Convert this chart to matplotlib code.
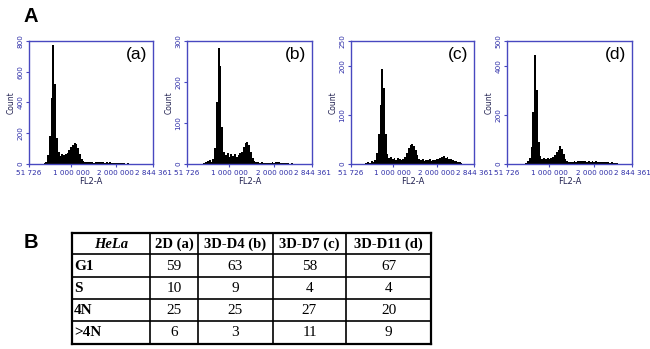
import numpy as np
import matplotlib
matplotlib.use('Agg')
import matplotlib.pyplot as plt

# histogram counts, bins of 40 000 FL2-A units starting at 300 000
bin_start = 300000
bin_width = 40000
counts_a = [2, 3, 5, 15, 60, 180, 430, 776, 520, 170, 75, 55, 62, 57, 66, 74, 92, 108,
            124, 137, 128, 102, 62, 30, 18, 15, 12, 14, 10, 12, 9, 11, 13, 10, 12, 14,
            9, 11, 8, 10, 7, 9, 6, 8, 5, 7, 4, 5, 3, 4, 2, 2, 1, 1, 0, 0, 0, 0]
counts_b = [0, 0, 0, 2, 4, 8, 10, 6, 12, 40, 150, 283, 240, 90, 30, 22, 26, 18, 24, 20,
            25, 18, 22, 26, 30, 42, 50, 54, 46, 30, 14, 8, 5, 4, 3, 4, 3, 2, 3, 2,
            3, 4, 3, 5, 6, 4, 3, 2, 3, 2, 2, 1, 2, 1, 1, 1, 1, 0]
counts_c = [0, 0, 2, 4, 3, 6, 5, 8, 22, 60, 120, 193, 155, 60, 20, 12, 14, 10, 13, 9,
            12, 10, 8, 11, 14, 22, 33, 38, 41, 36, 28, 18, 10, 8, 10, 7, 9, 8, 10, 7,
            9, 8, 11, 10, 12, 14, 16, 13, 15, 11, 10, 8, 7, 6, 5, 4, 3, 0]
counts_d = [0, 0, 0, 2, 6, 12, 25, 70, 210, 445, 300, 90, 32, 22, 24, 20, 23, 21, 25, 28,
            38, 50, 58, 72, 62, 40, 20, 12, 10, 8, 9, 11, 10, 12, 14, 11, 13, 12, 10, 12,
            9, 11, 10, 12, 9, 10, 8, 10, 7, 9, 8, 6, 7, 5, 4, 3, 2, 0]
panel_counts = [counts_a, counts_b, counts_c, counts_d]
panel_letters = ['(a)', '(b)', '(c)', '(d)']
panel_ymax = [800, 300, 250, 500]
panel_yticks = [[0, 200, 400, 600, 800], [0, 100, 200, 300], [0, 100, 200, 250], [0, 200, 400, 500]]

x_min, x_max = 51726, 2844361
x_ticks = [51726, 1000000, 2000000, 2844361]
x_ticklabels = ['51 726', '1 000 000', '2 000 000', '2 844 361']

# table
col_headers = ['HeLa', '2D (a)', '3D-D4 (b)', '3D-D7 (c)', '3D-D11 (d)']
row_labels = ['G1', 'S', '4N', '>4N']
table_values = [[59, 63, 58, 67],
                [10, 9, 4, 4],
                [25, 25, 27, 20],
                [6, 3, 11, 9]]

W, H = 650, 349
fig = plt.figure(figsize=(W / 100, H / 100), dpi=100)

blue = '#4848c0'
tick_blue = '#2e2ea8'

axes_px = [(29, 153), (187, 312), (351, 474), (507, 632)]
top_px, bot_px = 41, 164

for (x0, x1), counts, letter, ymax, yt in zip(axes_px, panel_counts, panel_letters,
                                              panel_ymax, panel_yticks):
    ax = fig.add_axes([x0 / W, 1 - bot_px / H, (x1 - x0) / W, (bot_px - top_px) / H])
    edges = bin_start + bin_width * np.arange(len(counts) + 1)
    ax.stairs(counts, edges, fill=True, color='black', linewidth=0)
    ax.set_xlim(x_min, x_max)
    ax.set_ylim(0, ymax)
    for s in ax.spines.values():
        s.set_color(blue)
        s.set_linewidth(1.0)
    ax.set_xticks(x_ticks)
    ax.set_xticklabels(x_ticklabels)
    ax.set_yticks(yt)
    ax.tick_params(axis='both', colors=blue, labelcolor=tick_blue, labelsize=5.2,
                   length=2.5, width=0.8, pad=1.5)
    for lab in ax.get_yticklabels():
        lab.set_rotation(90)
        lab.set_va('center')
    ax.set_xlabel('FL2-A', fontsize=6, color='#202050', labelpad=1)
    ax.set_ylabel('Count', fontsize=5.5, color='#202050', labelpad=1)
    ax.text(0.95, 0.95, letter, transform=ax.transAxes, ha='right', va='top',
            fontsize=12.5, family='Liberation Sans')

fig.text(23 / W, 1 - 22 / H, 'A', fontsize=14.5, fontweight='bold', family='Liberation Sans')
fig.text(24 / W, 1 - 248 / H, 'B', fontsize=14.5, fontweight='bold', family='Liberation Sans')

# table drawn in pixel coordinates
col_x = [72, 150, 198, 273, 346, 431]
row_y = [233, 254, 277, 299, 321, 344]
tab = fig.add_axes([0, 0, 1, 1])
tab.set_xlim(0, W)
tab.set_ylim(H, 0)
tab.axis('off')
tab.patch.set_alpha(0)
for i, y in enumerate(row_y):
    lw = 1.6 if i in (0, len(row_y) - 1) else 1.2
    tab.plot([col_x[0], col_x[-1]], [y, y], color='black', lw=lw, solid_capstyle='projecting')
for j, x in enumerate(col_x):
    lw = 1.6 if j in (0, len(col_x) - 1) else 1.2
    tab.plot([x, x], [row_y[0], row_y[-1]], color='black', lw=lw, solid_capstyle='projecting')

serif = 'Liberation Serif'
fs = 10.5
for j, h in enumerate(col_headers):
    cx = (col_x[j] + col_x[j + 1]) / 2
    cy = (row_y[0] + row_y[1]) / 2 + 0.5
    tab.text(cx, cy, h, ha='center', va='center', family=serif, fontsize=fs,
             fontweight='bold', fontstyle='italic' if j == 0 else 'normal')
for i, lab in enumerate(row_labels):
    cy = (row_y[i + 1] + row_y[i + 2]) / 2 + 0.5
    tab.text(col_x[0] + 2, cy, lab, ha='left', va='center', family=serif,
             fontsize=fs + 0.5, fontweight='bold')
    for j, v in enumerate(table_values[i]):
        cx = (col_x[j + 1] + col_x[j + 2]) / 2
        tab.text(cx, cy, str(v), ha='center', va='center', family=serif, fontsize=fs + 0.5)

fig.savefig('out.png', dpi=100)
